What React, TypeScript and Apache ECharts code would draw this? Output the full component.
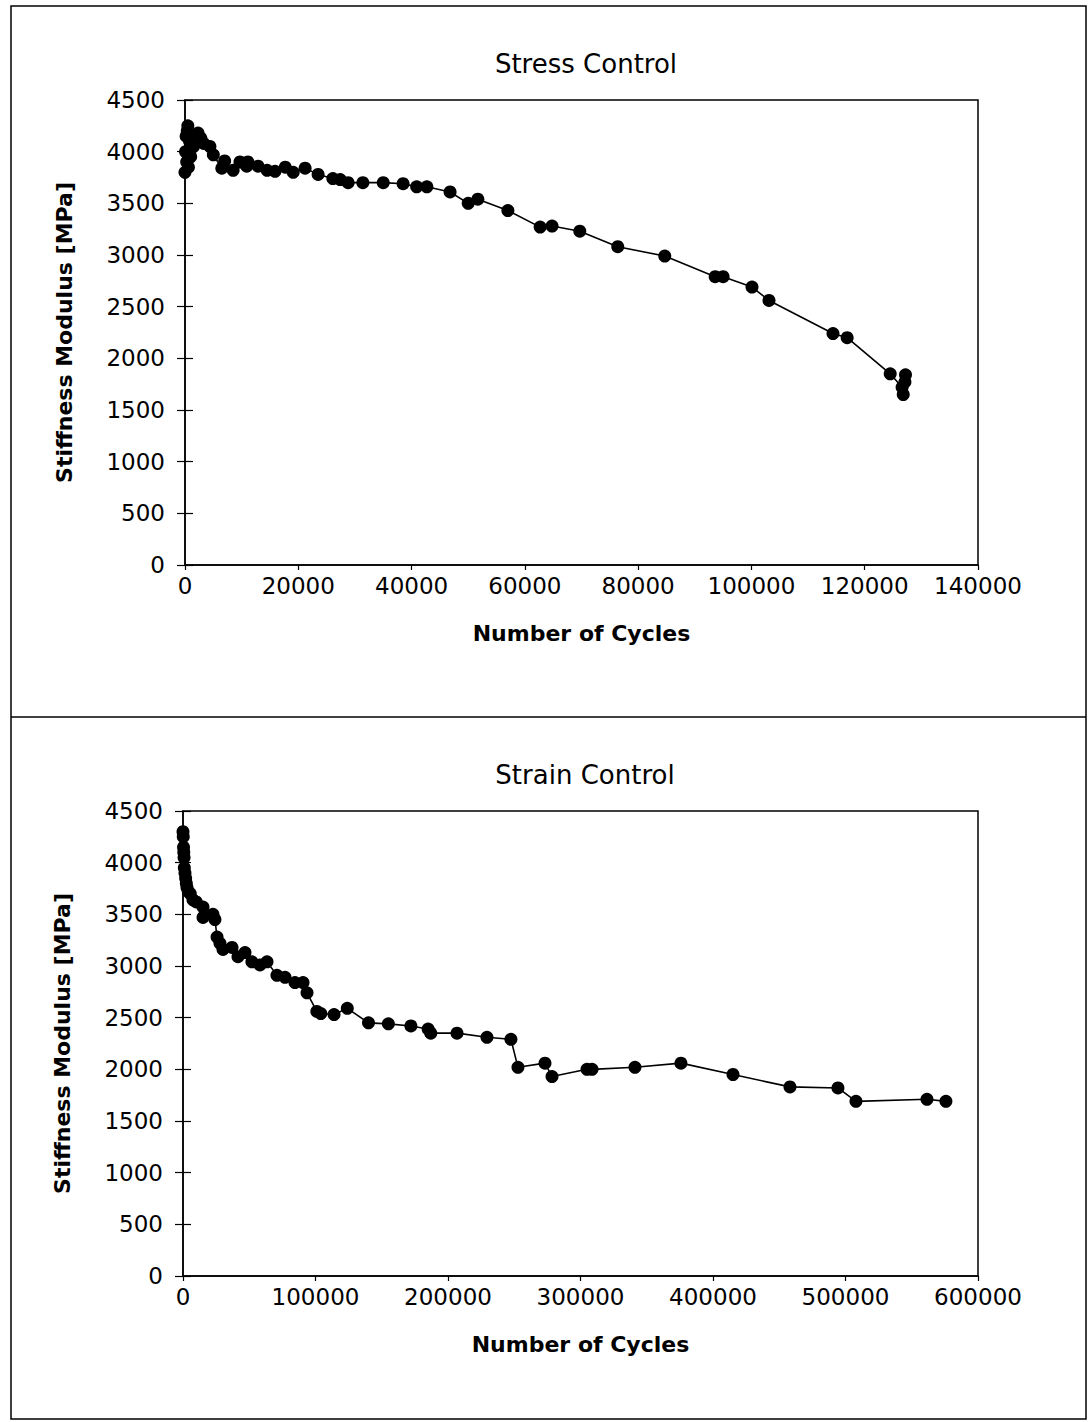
import React, { useEffect, useRef } from "react";
import * as echarts from "echarts";

const stressTitle = "Stress Control";
const strainTitle = "Strain Control";
const yName = "Stiffness Modulus [MPa]";
const xName = "Number of Cycles";

const stressCycles = [0, 100, 200, 300, 400, 500, 600, 800, 1000, 1200, 1500, 2000, 2300, 2800, 3300, 4400, 5000, 6500, 7000, 8500, 9700, 10900, 11100, 12900, 14500, 15900, 17700, 19100, 21200, 23500, 26100, 27400, 28800, 31400, 35000, 38500, 40900, 42700, 46800, 50000, 51700, 57000, 62700, 64800, 69700, 76400, 84700, 93600, 95000, 100100, 103100, 114400, 116900, 124500, 126600, 126800, 127100, 127200];
const stressModulus = [3800, 4000, 4150, 3900, 4200, 4250, 3850, 4100, 3950, 4150, 4050, 4100, 4180, 4130, 4080, 4050, 3970, 3840, 3910, 3820, 3900, 3860, 3900, 3860, 3820, 3810, 3850, 3800, 3840, 3780, 3740, 3730, 3700, 3700, 3700, 3690, 3660, 3660, 3610, 3500, 3540, 3430, 3270, 3280, 3230, 3080, 2990, 2790, 2790, 2690, 2560, 2240, 2200, 1850, 1720, 1650, 1770, 1840];

const strainCycles = [0, 200, 400, 600, 800, 1000, 1500, 2000, 2500, 3000, 4000, 5500, 7500, 10000, 15100, 15100, 22600, 24100, 25700, 27900, 30200, 37000, 41500, 46800, 52000, 58100, 63400, 70900, 77000, 84500, 90600, 93600, 101000, 104000, 114000, 124000, 140000, 155000, 172000, 185000, 187000, 206800, 229400, 247500, 252800, 273200, 278500, 304900, 308700, 341100, 375800, 415100, 458100, 494300, 507900, 561500, 575800];
const strainModulus = [4300, 4250, 4150, 4100, 4050, 3950, 3900, 3850, 3800, 3760, 3720, 3700, 3640, 3620, 3570, 3470, 3500, 3450, 3280, 3220, 3160, 3180, 3090, 3130, 3040, 3010, 3040, 2910, 2890, 2840, 2840, 2740, 2560, 2540, 2530, 2590, 2450, 2440, 2420, 2390, 2350, 2350, 2310, 2290, 2020, 2060, 1930, 2000, 2000, 2020, 2060, 1950, 1830, 1820, 1690, 1710, 1690];

const yTicks = { min: 0, max: 4500, interval: 500 };
const stressX = { min: 0, max: 140000, interval: 20000 };
const strainX = { min: 0, max: 600000, interval: 100000 };

const FONT = "DejaVu Sans, Liberation Sans, Arial, sans-serif";

export default function App() {
  const ref = useRef<HTMLDivElement>(null);
  useEffect(() => {
    document.body.style.margin = "0";
    const chart = echarts.init(ref.current!, null, { renderer: "svg" });
    const plain = (v: number) => String(v);
    const labelStyle = { color: "#000", fontSize: 23, fontFamily: FONT };
    const nameStyle = { color: "#000", fontSize: 22, fontWeight: "bold" as const, fontFamily: FONT };
    const mkX = (idx: number, cfg: any) => ({
      type: "value",
      gridIndex: idx,
      min: cfg.min,
      max: cfg.max,
      interval: cfg.interval,
      name: xName,
      nameLocation: "middle",
      nameGap: 57,
      nameTextStyle: nameStyle,
      axisLine: { show: true, lineStyle: { color: "#000", width: 1.5 } },
      axisTick: { show: true, length: 5, lineStyle: { color: "#000", width: 1.2 } },
      axisLabel: { ...labelStyle, margin: 9, formatter: plain },
      splitLine: { show: false },
    });
    const mkY = (idx: number) => ({
      type: "value",
      gridIndex: idx,
      min: yTicks.min,
      max: yTicks.max,
      interval: yTicks.interval,
      name: yName,
      nameLocation: "middle",
      nameGap: 110,
      nameTextStyle: nameStyle,
      axisLine: { show: true, lineStyle: { color: "#000", width: 1.5 } },
      axisTick: { show: true, length: 8, lineStyle: { color: "#000", width: 1.2 } },
      axisLabel: { ...labelStyle, margin: 20, formatter: plain },
      splitLine: { show: false },
    });
    const mkYin = (idx: number) => ({
      type: "value",
      gridIndex: idx,
      position: "left",
      min: yTicks.min,
      max: yTicks.max,
      interval: yTicks.interval,
      axisLine: { show: false },
      axisTick: { show: true, inside: true, length: 8, lineStyle: { color: "#000", width: 1.2 } },
      axisLabel: { show: false },
      splitLine: { show: false },
    });
    const seriesStyle = {
      type: "line",
      symbol: "circle",
      symbolSize: 13,
      itemStyle: { color: "#000" },
      lineStyle: { color: "#000", width: 1.6 },
    };
    const titleStyle = { color: "#000", fontSize: 26, fontWeight: "normal", fontFamily: FONT };
    chart.setOption({
      animation: false,
      backgroundColor: "#fff",
      title: [
        { text: stressTitle, left: 581, top: 46, textAlign: "center", textStyle: titleStyle },
        { text: strainTitle, left: 580, top: 757, textAlign: "center", textStyle: titleStyle },
      ],
      grid: [
        { left: 185, top: 100, width: 793, height: 465, show: true, borderColor: "#000", borderWidth: 1.5, backgroundColor: "transparent" },
        { left: 183, top: 811, width: 795, height: 465, show: true, borderColor: "#000", borderWidth: 1.5, backgroundColor: "transparent" },
      ],
      xAxis: [mkX(0, stressX), mkX(1, strainX)],
      yAxis: [mkY(0), mkYin(0), mkY(1), mkYin(1)],
      series: [
        { ...seriesStyle, xAxisIndex: 0, yAxisIndex: 0, data: stressCycles.map((c, i) => [c, stressModulus[i]]) },
        { ...seriesStyle, xAxisIndex: 1, yAxisIndex: 2, data: strainCycles.map((c, i) => [c, strainModulus[i]]) },
      ],
      graphic: [
        { type: "rect", shape: { x: 11, y: 6, width: 1075, height: 1413 }, style: { fill: "none", stroke: "#000", lineWidth: 1.5 }, silent: true },
        { type: "line", shape: { x1: 11, y1: 717, x2: 1086, y2: 717 }, style: { stroke: "#000", lineWidth: 1.5 }, silent: true },
      ],
    });
    return () => chart.dispose();
  }, []);
  return <div ref={ref} style={{ width: 1088, height: 1422 }} />;
}
